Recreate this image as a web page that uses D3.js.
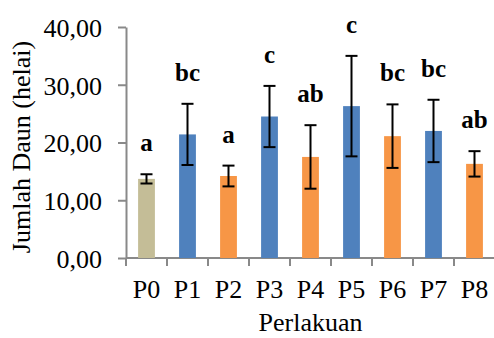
<!DOCTYPE html>
<html>
<head>
<meta charset="utf-8">
<script src="https://cdn.jsdelivr.net/npm/d3@7/dist/d3.min.js"></script>
<style>
  body { margin: 0; background: #fff; }
</style>
</head>
<body>
<script>
// data
var categories = ["P0", "P1", "P2", "P3", "P4", "P5", "P6", "P7", "P8"];
var means      = [13.7, 21.4, 14.2, 24.5, 17.5, 26.3, 21.1, 22.0, 16.3];
var errors     = [0.8, 5.3, 1.8, 5.3, 5.5, 8.7, 5.5, 5.4, 2.2];
var letters    = ["a", "bc", "a", "c", "ab", "c", "bc", "bc", "ab"];
var groups     = ["ctrl", "b", "o", "b", "o", "b", "o", "b", "o"];
var yTicks     = [0, 10, 20, 30, 40];

var colors = { ctrl: "#C4BD97", b: "#4F81BD", o: "#F79646" };
var axisColor = "#898989";
var serif = "Liberation Serif, Times New Roman, serif";

var w = 494, h = 338;

var svg = d3.select("body").append("svg")
    .attr("width", w)
    .attr("height", h)
    .attr("font-family", serif);

var x = d3.scaleBand()
    .domain(categories)
    .range([126, 495])
    .padding(0);

var y = d3.scaleLinear()
    .domain([0, 40])
    .range([258, 27]);

var fmt = function(d) { return d3.format(".2f")(d).replace(".", ","); };

// y axis
var yAxis = svg.append("g")
    .attr("transform", "translate(126,0)")
    .call(d3.axisLeft(y).tickValues(yTicks).tickFormat(fmt).tickSize(8).tickSizeOuter(0).tickPadding(16));
yAxis.attr("font-family", serif).attr("font-size", 26);
yAxis.select(".domain").attr("stroke", axisColor).attr("stroke-width", 2);
yAxis.selectAll(".tick line").attr("stroke", axisColor).attr("stroke-width", 2);
yAxis.selectAll(".tick text")
    .attr("fill", "#000")
    .attr("dy", "0.36em");

// x axis line + boundary ticks
var xAxis = svg.append("g");
xAxis.append("line")
    .attr("x1", x.range()[0]).attr("x2", x.range()[1])
    .attr("y1", y(0)).attr("y2", y(0))
    .attr("stroke", axisColor).attr("stroke-width", 2);

var bounds = categories.map(function(c) { return x(c); }).concat([x.range()[1]]);
xAxis.selectAll("line.tk")
    .data(bounds)
    .enter().append("line")
    .attr("class", "tk")
    .attr("x1", function(d) { return d; }).attr("x2", function(d) { return d; })
    .attr("y1", y(0)).attr("y2", y(0) + 8)
    .attr("stroke", axisColor).attr("stroke-width", 2);

xAxis.selectAll("text.cat")
    .data(categories)
    .enter().append("text")
    .attr("class", "cat")
    .attr("x", function(d) { return x(d) + x.bandwidth() / 2; })
    .attr("y", y(0) + 40)
    .attr("text-anchor", "middle")
    .attr("font-size", 26)
    .text(function(d) { return d; });

// bars
var bw = x.bandwidth() * 0.41;
svg.selectAll("rect.bar")
    .data(categories)
    .enter().append("rect")
    .attr("class", "bar")
    .attr("x", function(d) { return x(d) + (x.bandwidth() - bw) / 2; })
    .attr("width", bw)
    .attr("y", function(d, i) { return y(means[i]); })
    .attr("height", function(d, i) { return y(0) - y(means[i]); })
    .attr("fill", function(d, i) { return colors[groups[i]]; });

// error bars
var cap = 6;
var eb = svg.selectAll("g.err")
    .data(categories)
    .enter().append("g")
    .attr("class", "err")
    .attr("stroke", "#000")
    .attr("stroke-width", 2);
eb.append("line")
    .attr("x1", function(d) { return x(d) + x.bandwidth() / 2; })
    .attr("x2", function(d) { return x(d) + x.bandwidth() / 2; })
    .attr("y1", function(d, i) { return y(means[i] + errors[i]); })
    .attr("y2", function(d, i) { return y(means[i] - errors[i]); });
[1, -1].forEach(function(s) {
  eb.append("line")
      .attr("x1", function(d) { return x(d) + x.bandwidth() / 2 - cap; })
      .attr("x2", function(d) { return x(d) + x.bandwidth() / 2 + cap; })
      .attr("y1", function(d, i) { return y(means[i] + s * errors[i]); })
      .attr("y2", function(d, i) { return y(means[i] + s * errors[i]); });
});

// significance letters
svg.selectAll("text.lbl")
    .data(categories)
    .enter().append("text")
    .attr("class", "lbl")
    .attr("x", function(d) { return x(d) + x.bandwidth() / 2; })
    .attr("y", function(d, i) { return y(means[i] + errors[i]) - 23; })
    .attr("text-anchor", "middle")
    .attr("font-size", 25)
    .attr("font-weight", "bold")
    .text(function(d, i) { return letters[i]; });

// axis titles
svg.append("text")
    .attr("transform", "translate(30,147) rotate(-90)")
    .attr("text-anchor", "middle")
    .attr("font-size", 26)
    .text("Jumlah Daun (helai)");

svg.append("text")
    .attr("x", (x.range()[0] + x.range()[1]) / 2)
    .attr("y", 331)
    .attr("text-anchor", "middle")
    .attr("font-size", 26)
    .text("Perlakuan");
</script>
</body>
</html>
